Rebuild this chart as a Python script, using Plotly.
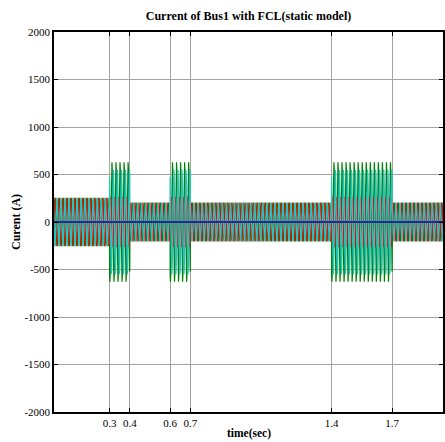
import numpy as np
import plotly.graph_objects as go

# Time segments (s): pre-fault, fault, limited, fault, limited, fault, limited
seg_edges = [0.0, 0.3, 0.4, 0.6, 0.7, 1.4, 1.7, 2.0]
# Peak current (A) of each phase within each segment
peak_a = [255, 265, 205, 265, 205, 265, 205]
peak_b = [255, 630, 205, 630, 205, 630, 205]
peak_c = [255, 550, 205, 550, 205, 550, 205]
# Neutral current (A) per segment
peak_n = [0, 0, 0, 0, 0, 0, 0]
freq_hz = 50
phase_shift_deg = [0, -120, 120]

x_ticks = [0.3, 0.4, 0.6, 0.7, 1.4, 1.7]
x_tick_text = ["0.3", "0.4", "0.6", "0.7", "1.4", "1.7"]
y_ticks = [-2000, -1500, -1000, -500, 0, 500, 1000, 1500, 2000]
y_tick_text = ["-2000", "-1500", "-1000", "-500", "0", "500", "1000", "1500", "2000"]

t = np.arange(seg_edges[0], seg_edges[-1], 0.0002)
seg_idx = np.clip(np.searchsorted(seg_edges, t, side="right") - 1, 0, len(seg_edges) - 2)


def phase_current(peaks, shift_deg):
    env = np.asarray(peaks, dtype=float)[seg_idx]
    return env * np.sin(2 * np.pi * freq_hz * t + np.deg2rad(shift_deg))


ia = phase_current(peak_a, phase_shift_deg[0])
ib = phase_current(peak_b, phase_shift_deg[1])
ic = phase_current(peak_c, phase_shift_deg[2])
i_n = np.asarray(peak_n, dtype=float)[seg_idx]

fig = go.Figure()
# phase B underneath, then A, then C, neutral on top
for y, col, w in [(ib, "#008000", 1.2), (ia, "#ff0000", 1.2), (ic, "#22c4c4", 1.3), (i_n, "#1c2c98", 2)]:
    fig.add_trace(go.Scatter(x=t, y=y, mode="lines", line=dict(color=col, width=w),
                             showlegend=False, hoverinfo="skip"))

serif = "Liberation Serif, Times New Roman, serif"
axis_common = dict(
    showgrid=True, gridcolor="#a3a3a3", gridwidth=1,
    ticks="inside", ticklen=4, tickcolor="black", tickwidth=1,
    showline=True, linecolor="black", linewidth=1.5, mirror="ticks",
    zeroline=False, tickfont=dict(family=serif, size=11, color="black"),
)

fig.update_layout(
    width=445, height=442,
    margin=dict(l=54, r=0, t=32, b=30),
    paper_bgcolor="white", plot_bgcolor="white",
    xaxis=dict(range=[0.0245, 1.952], tickmode="array", tickvals=x_ticks,
               ticktext=x_tick_text, **axis_common),
    yaxis=dict(range=[-2000, 2000], tickmode="array", tickvals=y_ticks,
               ticktext=y_tick_text, **axis_common),
    title=dict(text="<b>Current of Bus1 with FCL(static model)</b>",
               font=dict(family=serif, size=12, color="black"),
               x=0.5, xref="paper", xanchor="center",
               y=1 - 16 / 442, yref="container", yanchor="middle"),
    annotations=[
        dict(text="<b>time(sec)</b>", xref="paper", yref="paper", x=0.5, y=0,
             yshift=-21, xanchor="center", yanchor="middle", showarrow=False,
             font=dict(family=serif, size=11.5, color="black")),
        dict(text="<b>Curent (A)</b>", xref="paper", yref="paper", x=0, y=0.5,
             xshift=-38, xanchor="center", yanchor="middle", showarrow=False, textangle=-90,
             font=dict(family=serif, size=12, color="black")),
    ],
)

fig.write_html("out.html")
